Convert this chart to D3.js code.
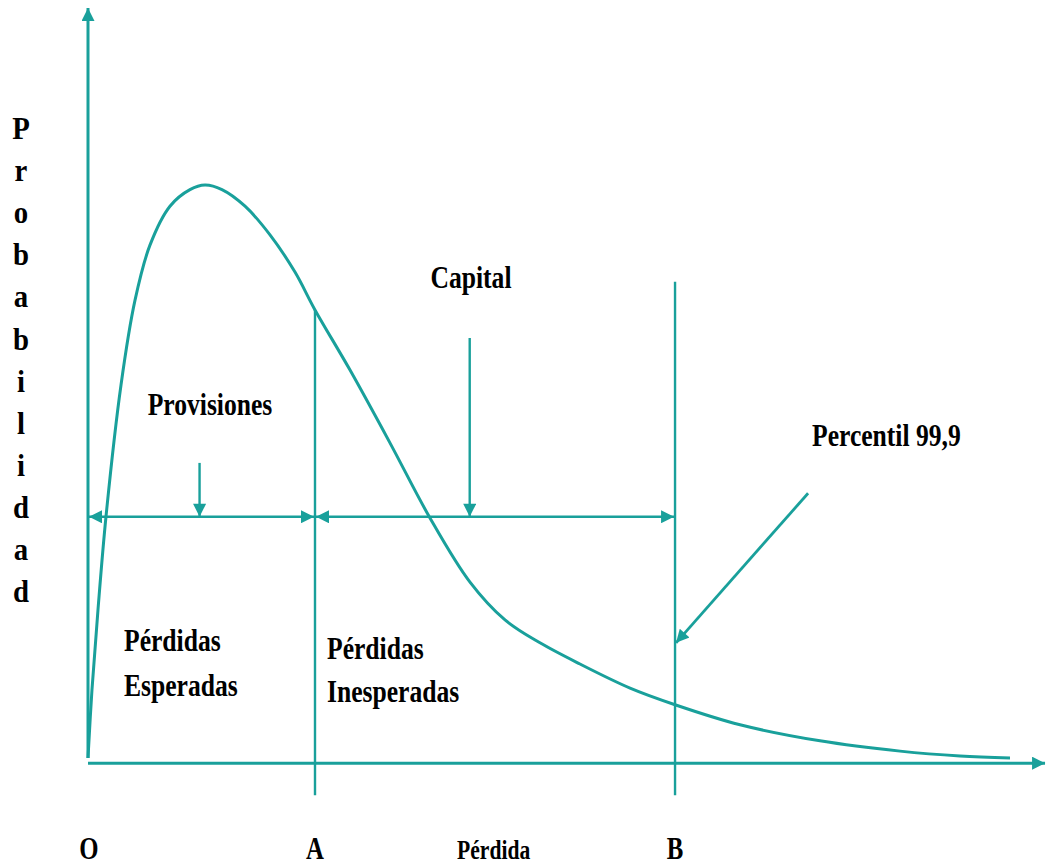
<!DOCTYPE html>
<html>
<head>
<meta charset="utf-8">
<script src="https://cdn.jsdelivr.net/npm/d3@7"></script>
<style>
  html, body { margin: 0; padding: 0; background: #ffffff; }
  svg { display: block; }
  text { font-family: "Liberation Serif", "Times New Roman", serif; font-weight: bold; fill: #000; }
</style>
</head>
<body>
<svg id="chart" width="1047" height="867"></svg>
<script>
// ---- data ----
const lossX = [0, 0.43, 1.08, 1.95, 3.58, 5.10, 6.72, 8.89, 11.06, 12.69, 14.53, 17.03, 19.74, 22.45, 24.62,
               28.42, 32.75, 37.09, 41.43, 45.23, 49.02, 53.36, 58.79, 63.67, 70.72, 79.39, 88.07, 94.58, 100];
const probY = [0, 11.9, 25.8, 42.1, 65.1, 79.9, 89.5, 96.3, 99.2, 100, 99.2, 96.3, 91.3, 84.8, 78.2,
               67.7, 55.0, 41.9, 30.7, 24.1, 20.1, 16.4, 12.2, 9.3, 5.8, 3.0, 1.2, 0.35, 0];
const markA = 24.62;       // expected loss
const markB = 63.67;       // percentile 99.9
const bandLevel = 42.1;    // height of the double arrows
const provisionX = 12.1;
const capitalX = 41.4;
const xTickLabels = ["O", "A", "Pérdida", "B"];
const xTickValues = [0, markA, 44.0, markB];
const yLabel = "Probabilidad";

// ---- layout ----
const color = "#19a09b";
const svg = d3.select("#chart");
const x = d3.scaleLinear().domain([0, 100]).range([88, 1010]);
const y = d3.scaleLinear().domain([0, 100]).range([758, 185]);
const xAxisMax = 103.8, yAxisMax = 130.9, lineBottom = -6.5;

const defs = svg.append("defs");
defs.append("marker").attr("id", "arr")
  .attr("viewBox", "0 0 10 10").attr("refX", 10).attr("refY", 5)
  .attr("markerWidth", 15).attr("markerHeight", 13)
  .attr("markerUnits", "userSpaceOnUse")
  .attr("orient", "auto-start-reverse")
  .append("path").attr("d", "M0,0 L10,5 L0,10 Z").attr("fill", color);

function line(x1, y1, x2, y2, opts = {}) {
  const l = svg.append("line")
    .attr("x1", x1).attr("y1", y1).attr("x2", x2).attr("y2", y2)
    .attr("stroke", color).attr("stroke-width", opts.w || 2.6);
  if (opts.end) l.attr("marker-end", "url(#arr)");
  if (opts.start) l.attr("marker-start", "url(#arr)");
  return l;
}

// axes
line(x(0), y(-0.9), x(xAxisMax), y(-0.9), { w: 3, end: true });
line(x(0), y(0), x(0), y(yAxisMax), { w: 3, end: true });

// vertical markers
line(x(markA), y(78.2), x(markA), y(lineBottom), { w: 2.4 });
line(x(markB), y(83.1), x(markB), y(lineBottom), { w: 2.4 });

// double arrows
line(x(0) + 1, y(bandLevel), x(markA) - 1, y(bandLevel), { w: 2.6, start: true, end: true });
line(x(markA) + 1, y(bandLevel), x(markB) - 1, y(bandLevel), { w: 2.6, start: true, end: true });

// pointer arrows
line(x(provisionX), y(51.5), x(provisionX), y(bandLevel), { w: 2.4, end: true });
line(x(capitalX), y(73.3), x(capitalX), y(bandLevel), { w: 2.4, end: true });
line(x(78.1), y(46.2), x(markB) + 1, y(20.1), { w: 2.8, end: true });

// curve
const pts = lossX.map((v, i) => [v, probY[i]]);
svg.append("path")
  .datum(pts)
  .attr("fill", "none")
  .attr("stroke", color)
  .attr("stroke-width", 3)
  .attr("d", d3.line().x(d => x(d[0])).y(d => y(d[1])).curve(d3.curveCatmullRom.alpha(0.5)));

// text helper (condensed bold serif)
function label(str, px, py, size, anchor, sx) {
  svg.append("g").attr("transform", `translate(${px},${py}) scale(${sx},1)`)
    .append("text").attr("text-anchor", anchor).attr("font-size", size).text(str);
}

label("Provisiones", 210, 415, 32, "middle", 0.8);
label("Capital", 471, 288, 32, "middle", 0.8);
label("Percentil 99,9", 812, 446, 32, "start", 0.8);
label("Pérdidas", 124, 651, 32, "start", 0.8);
label("Esperadas", 124, 696, 32, "start", 0.8);
label("Pérdidas", 327, 659, 32, "start", 0.8);
label("Inesperadas", 327, 702, 32, "start", 0.8);

// x tick labels
xTickLabels.forEach((t, i) => {
  const small = t.length > 1;
  label(t, x(xTickValues[i]) + (i === 0 ? 1 : 0), 859, small ? 27 : 31, "middle", 0.8);
});

// vertical y label
yLabel.split("").forEach((ch, i) => {
  label(ch, 21, 139 + i * 42.1, 32, "middle", 0.9);
});
</script>
</body>
</html>
